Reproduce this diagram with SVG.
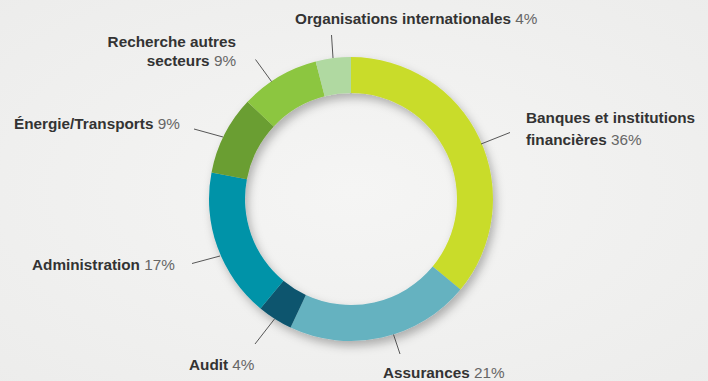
<svg xmlns="http://www.w3.org/2000/svg" width="708" height="381" viewBox="0 0 708 381">
<defs>
<radialGradient id="bg" cx="50%" cy="50%" r="75%">
<stop offset="0" stop-color="#f5f5f4"/>
<stop offset="1" stop-color="#ececeb"/>
</radialGradient>
<filter id="sh" x="-20%" y="-20%" width="140%" height="140%">
<feDropShadow dx="3" dy="5" stdDeviation="5" flood-color="#000" flood-opacity="0.28"/>
</filter>
<style>
text{font-family:"Liberation Sans",Arial,Helvetica,sans-serif;font-size:15.3px;}
.n{font-weight:bold;fill:#333333;}
.p{font-weight:normal;fill:#666666;}
.ld{stroke:#444444;stroke-width:0.9;fill:none;}
</style>
</defs>
<rect width="708" height="381" fill="url(#bg)"/>
<g id="donut" filter="url(#sh)">
<g id="banques"><path d="M351,57 A142,142 0 0 1 460.41,289.51 L432.67,266.57 A106,106 0 0 0 351,93 Z" fill="#c9dc2b"/></g>
<g id="assurances"><path d="M460.41,289.51 A142,142 0 0 1 290.54,327.49 L305.87,294.91 A106,106 0 0 0 432.67,266.57 Z" fill="#65b2c0"/></g>
<g id="audit"><path d="M290.54,327.49 A142,142 0 0 1 260.49,308.41 L283.43,280.67 A106,106 0 0 0 305.87,294.91 Z" fill="#0b556e"/></g>
<g id="administration"><path d="M260.49,308.41 A142,142 0 0 1 211.51,172.39 L246.88,179.14 A106,106 0 0 0 283.43,280.67 Z" fill="#0093a8"/></g>
<g id="energie"><path d="M211.51,172.39 A142,142 0 0 1 247.49,101.79 L273.73,126.44 A106,106 0 0 0 246.88,179.14 Z" fill="#6b9e30"/></g>
<g id="recherche"><path d="M247.49,101.79 A142,142 0 0 1 315.69,61.46 L324.64,96.33 A106,106 0 0 0 273.73,126.44 Z" fill="#8cc63f"/></g>
<g id="organisations"><path d="M315.69,61.46 A142,142 0 0 1 351,57 L351,93 A106,106 0 0 0 324.64,96.33 Z" fill="#b0d9a1"/></g>
</g>
<g id="connectors">
<line class="ld" x1="331.5" y1="35" x2="333" y2="58"/>
<line class="ld" x1="255.5" y1="59.5" x2="271.5" y2="81.5"/>
<line class="ld" x1="194" y1="129" x2="223" y2="137"/>
<line class="ld" x1="192" y1="263.5" x2="220" y2="256"/>
<line class="ld" x1="255" y1="344" x2="274.5" y2="319"/>
<line class="ld" x1="393.5" y1="334.5" x2="400" y2="354"/>
<line class="ld" x1="510" y1="132.5" x2="481" y2="144"/>
</g>
<g id="label-organisations"><text x="295" y="23.5"><tspan class="n">Organisations internationales</tspan><tspan class="p"> 4%</tspan></text></g>
<g id="label-recherche"><text x="236" y="46.5" text-anchor="end" class="n">Recherche autres</text><text x="236" y="65.5" text-anchor="end"><tspan class="n">secteurs</tspan><tspan class="p"> 9%</tspan></text></g>
<g id="label-energie"><text x="14" y="128.5"><tspan class="n">Énergie/Transports</tspan><tspan class="p"> 9%</tspan></text></g>
<g id="label-administration"><text x="32" y="270"><tspan class="n">Administration</tspan><tspan class="p"> 17%</tspan></text></g>
<g id="label-audit"><text x="189" y="369.5"><tspan class="n">Audit</tspan><tspan class="p"> 4%</tspan></text></g>
<g id="label-assurances"><text x="383" y="377.5"><tspan class="n">Assurances</tspan><tspan class="p"> 21%</tspan></text></g>
<g id="label-banques"><text x="526" y="122.5" class="n">Banques et institutions</text><text x="526" y="144.5"><tspan class="n">financières</tspan><tspan class="p"> 36%</tspan></text></g>
</svg>
